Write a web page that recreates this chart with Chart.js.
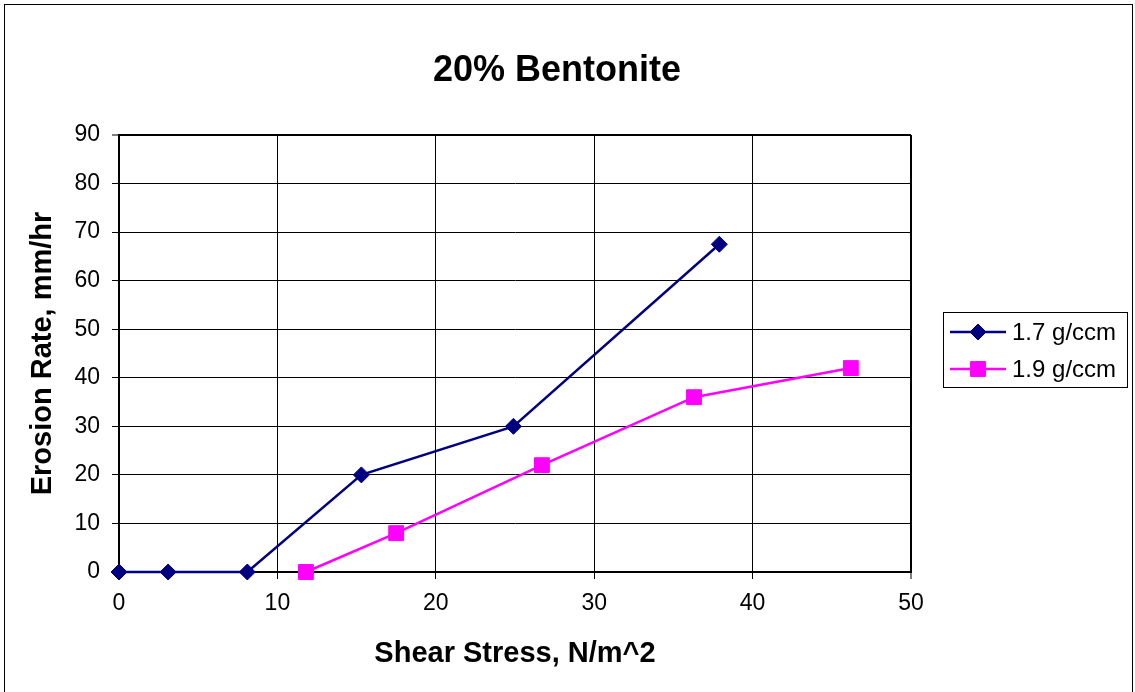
<!DOCTYPE html>
<html>
<head>
<meta charset="utf-8">
<title>20% Bentonite</title>
<script src="https://cdn.jsdelivr.net/npm/chart.js@4/dist/chart.umd.min.js"></script>
<style>
  html, body { margin: 0; padding: 0; background: #ffffff; }
  #wrap { position: relative; width: 1135px; height: 692px; }
  canvas { display: block; }
</style>
</head>
<body>
<div id="wrap"><canvas id="chart" width="1135" height="692"></canvas></div>
<script>
// Erosion rate vs. shear stress for two dry densities
const chartTitle = '20% Bentonite';
const xAxisTitle = 'Shear Stress, N/m^2';
const yAxisTitle = 'Erosion Rate, mm/hr';
const seriesLabels = ['1.7 g/ccm', '1.9 g/ccm'];

const shear17 = [0, 3.1, 8.1, 15.3, 24.9, 37.9];
const erosion17 = [0, 0, 0, 20, 30, 67.5];

const shear19 = [11.8, 17.5, 26.7, 36.3, 46.2];
const erosion19 = [0, 8, 22, 36, 42];

const xTicks = [0, 10, 20, 30, 40, 50];
const yTicks = [0, 10, 20, 30, 40, 50, 60, 70, 80, 90];

const FONT = '"Liberation Sans", Arial, Helvetica, sans-serif';
const NAVY = '#000080';
const MAGENTA = '#FF00FF';

const toPoints = (xs, ys) => xs.map((x, i) => ({ x: x, y: ys[i] }));

// Title, outer frame and legend panel
const decorations = {
  id: 'decorations',
  afterDraw(chart) {
    const ctx = chart.ctx;
    ctx.save();
    // outer frame
    ctx.strokeStyle = '#000000';
    ctx.lineWidth = 1;
    ctx.strokeRect(4.5, 4.5, 1128, 720);

    // title
    ctx.fillStyle = '#000000';
    ctx.font = 'bold 36px ' + FONT;
    ctx.textAlign = 'center';
    ctx.textBaseline = 'middle';
    ctx.fillText(chartTitle, 557, 71);

    // legend
    const box = { x: 943.5, y: 312.5, w: 184, h: 75 };
    ctx.fillStyle = '#ffffff';
    ctx.fillRect(box.x, box.y, box.w, box.h);
    ctx.strokeStyle = '#000000';
    ctx.lineWidth = 1;
    ctx.strokeRect(box.x, box.y, box.w, box.h);

    const rows = [332, 369];
    chart.data.datasets.forEach((ds, i) => {
      const y = rows[i];
      ctx.strokeStyle = ds.borderColor;
      ctx.lineWidth = ds.borderWidth;
      ctx.beginPath();
      ctx.moveTo(950, y);
      ctx.lineTo(1006, y);
      ctx.stroke();
      ctx.fillStyle = ds.pointBackgroundColor;
      ctx.strokeStyle = ds.pointBorderColor;
      ctx.lineWidth = 1;
      Chart.helpers.drawPoint(ctx, {
        pointStyle: ds.pointStyle,
        radius: ds.pointRadius,
        rotation: 0,
        borderWidth: 1
      }, 978, y);
      ctx.fillStyle = '#000000';
      ctx.font = '24px ' + FONT;
      ctx.textAlign = 'left';
      ctx.textBaseline = 'middle';
      ctx.fillText(ds.label, 1012, y + 1);
    });
    ctx.restore();
  }
};

const edgeWidth = (max) => (c) => (c.tick && c.tick.value === max ? 2 : 1);

new Chart(document.getElementById('chart'), {
  type: 'scatter',
  data: {
    datasets: [
      {
        label: seriesLabels[0],
        data: toPoints(shear17, erosion17),
        showLine: true,
        borderColor: NAVY,
        borderWidth: 2.5,
        pointStyle: 'rectRot',
        pointRadius: 8,
        pointBackgroundColor: NAVY,
        pointBorderColor: NAVY,
        pointBorderWidth: 1,
        clip: false
      },
      {
        label: seriesLabels[1],
        data: toPoints(shear19, erosion19),
        showLine: true,
        borderColor: MAGENTA,
        borderWidth: 2.5,
        pointStyle: 'rect',
        pointRadius: 10.5,
        pointBackgroundColor: MAGENTA,
        pointBorderColor: MAGENTA,
        pointBorderWidth: 1,
        clip: false
      }
    ]
  },
  options: {
    responsive: false,
    animation: false,
    devicePixelRatio: 1,
    layout: { padding: { top: 135, left: 26, right: 224, bottom: 21 } },
    plugins: {
      legend: { display: false },
      title: { display: false },
      tooltip: { enabled: false }
    },
    scales: {
      x: {
        type: 'linear',
        min: xTicks[0],
        max: xTicks[xTicks.length - 1],
        afterBuildTicks: (scale) => { scale.ticks = xTicks.map(v => ({ value: v })); },
        afterFit: (scale) => { scale.height = 99; },
        ticks: {
          color: '#000000',
          font: { family: FONT, size: 23 },
          padding: 11,
          maxRotation: 0
        },
        grid: {
          color: '#000000',
          lineWidth: edgeWidth(xTicks[xTicks.length - 1]),
          tickLength: 7,
          tickWidth: 1,
          tickColor: '#000000'
        },
        border: { color: '#000000', width: 2 },
        title: {
          display: true,
          text: xAxisTitle,
          color: '#000000',
          font: { family: FONT, size: 29, weight: 'bold' },
          padding: 0
        }
      },
      y: {
        type: 'linear',
        min: yTicks[0],
        max: yTicks[yTicks.length - 1],
        afterBuildTicks: (scale) => { scale.ticks = yTicks.map(v => ({ value: v })); },
        afterFit: (scale) => { scale.width = 93; },
        ticks: {
          color: '#000000',
          font: { family: FONT, size: 23 },
          padding: 12
        },
        grid: {
          color: '#000000',
          lineWidth: edgeWidth(yTicks[yTicks.length - 1]),
          tickLength: 7,
          tickWidth: 1,
          tickColor: '#000000'
        },
        border: { color: '#000000', width: 2 },
        title: {
          display: true,
          text: yAxisTitle,
          color: '#000000',
          font: { family: FONT, size: 29, weight: 'bold' },
          padding: 0
        }
      }
    }
  },
  plugins: [decorations]
});
</script>
</body>
</html>
